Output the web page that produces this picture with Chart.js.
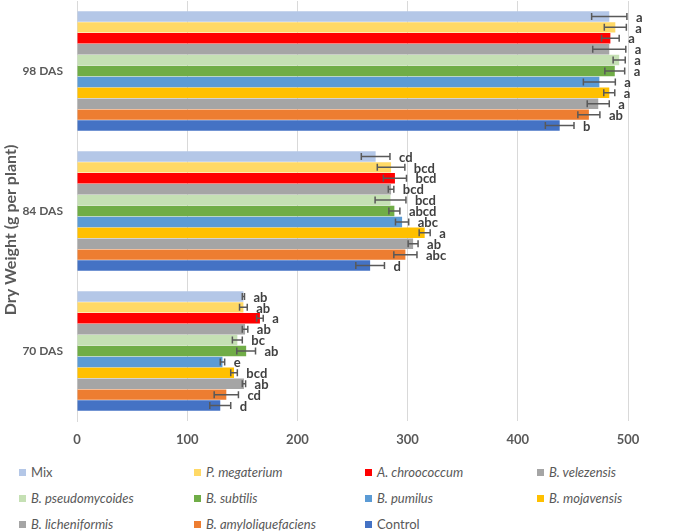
<!DOCTYPE html>
<html>
<head>
<meta charset="utf-8">
<script src="https://cdn.jsdelivr.net/npm/chart.js@4"></script>
<style>
  html, body { margin: 0; padding: 0; background: #fff; }
  #wrap { position: relative; width: 685px; height: 532px; }
  #chart { position: absolute; left: 0; top: 0; }
  .leg { position: absolute; font-family: Lato, sans-serif; font-size: 13px; color: #595959;
         display: flex; align-items: center; white-space: nowrap; height: 16px; }
  .leg span.box { width: 7px; height: 7px; margin-right: 5px; display: inline-block; }
</style>
</head>
<body>
<div id="wrap">
  <canvas id="chart" width="685" height="460"></canvas>
  <div id="legend"></div>
</div>
<script>
const categories = ['98 DAS', '84 DAS', '70 DAS'];
const seriesNames = ['Mix', 'P. megaterium', 'A. chroococcum', 'B. velezensis', 'B. pseudomycoides',
  'B. subtilis', 'B. pumilus', 'B. mojavensis', 'B. licheniformis', 'B. amyloliquefaciens', 'Control'];
const seriesColors = ['#B4C7E7', '#FFD966', '#FF0000', '#A5A5A5', '#C5E0B4',
  '#70AD47', '#5B9BD5', '#FFC000', '#A5A5A5', '#ED7D31', '#4472C4'];
const italicNames = [false, true, true, true, true, true, true, true, true, true, false];

// one value per series, in series order
const das98 = [483, 488.5, 484, 483, 492, 488, 474, 483, 473, 464.5, 438];
const err98 = [16, 10, 8, 15, 5.5, 9, 14.5, 5, 10, 10, 13];
const let98 = ['a', 'a', 'a', 'a', 'a', 'a', 'a', 'a', 'a', 'ab', 'b'];

const das84 = [271, 285, 288.5, 285, 284.5, 288, 295, 315.5, 305, 298, 266];
const err84 = [13, 12.5, 10.5, 2.5, 14, 5, 6, 5, 4.5, 10.5, 13];
const let84 = ['cd', 'bcd', 'bcd', 'bcd', 'bcd', 'abcd', 'abc', 'a', 'ab', 'abc', 'd'];

const das70 = [151, 151, 166, 152.5, 145.5, 153.5, 132, 142.5, 151.5, 135.5, 130];
const err70 = [1, 3.5, 3, 2.5, 4.5, 8.5, 2, 3, 1.5, 11, 9.5];
const let70 = ['ab', 'ab', 'a', 'ab', 'bc', 'ab', 'e', 'bcd', 'ab', 'cd', 'd'];

const xTicks = [0, 100, 200, 300, 400, 500];
const yTitle = 'Dry Weight (g per plant)';

const datasets = seriesNames.map((name, i) => ({
  label: name,
  data: [das98[i], das84[i], das70[i]],
  errors: [err98[i], err84[i], err70[i]],
  letters: [let98[i], let84[i], let70[i]],
  backgroundColor: seriesColors[i],
  borderWidth: 0,
  barPercentage: 0.96,
  categoryPercentage: 0.857,
}));

// error bars and significance letters
const errorBarPlugin = {
  id: 'errorBars',
  afterDatasetsDraw(chart) {
    const ctx = chart.ctx;
    const xs = chart.scales.x;
    ctx.save();
    chart.data.datasets.forEach((ds, di) => {
      const meta = chart.getDatasetMeta(di);
      meta.data.forEach((bar, j) => {
        const v = ds.data[j];
        const e = ds.errors[j];
        const x1 = xs.getPixelForValue(v - e);
        const x2 = xs.getPixelForValue(v + e);
        const y = bar.y;
        ctx.strokeStyle = '#595959';
        ctx.lineWidth = 1.5;
        ctx.beginPath();
        ctx.moveTo(x1, y); ctx.lineTo(x2, y);
        ctx.moveTo(x1, y - 3.5); ctx.lineTo(x1, y + 3.5);
        ctx.moveTo(x2, y - 3.5); ctx.lineTo(x2, y + 3.5);
        ctx.stroke();
        ctx.fillStyle = '#404040';
        ctx.font = 'bold 13px Lato';
        ctx.textAlign = 'left';
        ctx.textBaseline = 'middle';
        ctx.fillText(ds.letters[j], x2 + 9, y + 1);
      });
    });
    ctx.restore();
  }
};

// rotated value-axis title, a bit below the middle like the original
const axisTitlePlugin = {
  id: 'axisTitle',
  afterDraw(chart) {
    const ctx = chart.ctx;
    ctx.save();
    ctx.translate(11, 230);
    ctx.rotate(-Math.PI / 2);
    ctx.fillStyle = '#595959';
    ctx.font = 'bold 16px Lato';
    ctx.textAlign = 'center';
    ctx.textBaseline = 'middle';
    ctx.fillText(yTitle, 0, 0);
    ctx.restore();
  }
};

new Chart(document.getElementById('chart'), {
  type: 'bar',
  data: { labels: categories, datasets: datasets },
  options: {
    indexAxis: 'y',
    responsive: false,
    animation: false,
    layout: { padding: { top: 1, right: 57, left: 0, bottom: 0 } },
    plugins: {
      legend: { display: false },
      tooltip: { enabled: false },
    },
    scales: {
      x: {
        min: 0,
        max: 500,
        afterBuildTicks: (s) => { s.ticks = xTicks.map(v => ({ value: v })); },
        grid: { color: '#D9D9D9', drawTicks: false },
        border: { display: false },
        ticks: { padding: 11, color: '#595959', font: { family: 'Lato', size: 13, weight: 'bold' } },
        afterFit: (s) => { s.height = 39; },
      },
      y: {
        grid: { display: false, drawTicks: false },
        border: { display: true, color: '#D9D9D9' },
        ticks: { padding: 14, color: '#595959', font: { family: 'Lato', size: 12, weight: 'bold' } },
        afterFit: (s) => { s.width = 77; s.paddingTop = 0; s.paddingBottom = 0; },
      },
    },
  },
  plugins: [errorBarPlugin, axisTitlePlugin],
});

// legend in 4 columns below the chart
const legCols = [19, 194, 365, 537];
const legRows = [472, 498, 524];
const legend = document.getElementById('legend');
seriesNames.forEach((name, i) => {
  const item = document.createElement('div');
  item.className = 'leg';
  item.style.left = legCols[i % 4] + 'px';
  item.style.top = (legRows[Math.floor(i / 4)] - 8) + 'px';
  const box = document.createElement('span');
  box.className = 'box';
  box.style.background = seriesColors[i];
  const txt = document.createElement('span');
  txt.textContent = name;
  if (italicNames[i]) txt.style.fontStyle = 'italic';
  item.appendChild(box);
  item.appendChild(txt);
  legend.appendChild(item);
});
</script>
</body>
</html>
